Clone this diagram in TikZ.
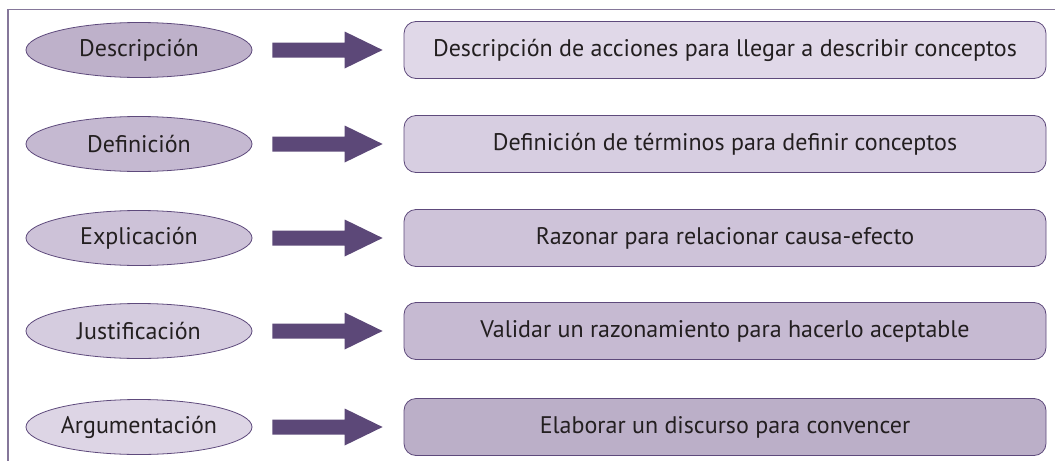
\documentclass[tikz,border=0pt]{standalone}
\usepackage{fontspec}
\setmainfont{PT Sans}
\usetikzlibrary{shapes.geometric,calc}
\definecolor{edgec}{HTML}{5E4A7C}
\definecolor{framec}{HTML}{85779A}
\definecolor{arrowc}{HTML}{5C4878}
\definecolor{txtc}{HTML}{231F20}
\definecolor{e1c}{HTML}{BEB1CA}
\definecolor{e2c}{HTML}{C5B9D1}
\definecolor{e3c}{HTML}{CDC2D8}
\definecolor{e4c}{HTML}{D5CCDF}
\definecolor{e5c}{HTML}{DDD5E5}
\definecolor{b1c}{HTML}{E0D8E8}
\definecolor{b2c}{HTML}{D7CEE1}
\definecolor{b3c}{HTML}{CEC3D9}
\definecolor{b4c}{HTML}{C6BAD2}
\definecolor{b5c}{HTML}{BBAFC8}
\tikzset{
  ell/.style={ellipse, draw=edgec, line width=0.8pt, minimum width=226pt, minimum height=55pt, inner sep=0pt, text=txtc, font=\fontsize{24}{28}\selectfont},
  descbox/.style={rectangle, rounded corners=12pt, draw=edgec, line width=0.8pt, minimum width=642pt, minimum height=57pt, inner sep=0pt, text=txtc, font=\fontsize{24}{28}\selectfont},
  blockarrow/.style={fill=arrowc},
  frameline/.style={draw=framec, line width=1.3pt}
}
\begin{document}
\begin{tikzpicture}[x=1pt,y=-1pt]
\useasboundingbox (0,0) rectangle (1055,461);
\draw[frameline] (1055,9.5) -- (8,9.5) -- (8,461);
\foreach \i/\y/\ec/\bc/\lt/\rt in {
  1/50/e1c/b1c/Descripción/Descripción de acciones para llegar a describir conceptos,
  2/144/e2c/b2c/Definición/Definición de términos para definir conceptos,
  3/238/e3c/b3c/Explicación/Razonar para relacionar causa-efecto,
  4/331/e4c/b4c/Justificación/Validar un razonamiento para hacerlo aceptable,
  5/427/e5c/b5c/Argumentación/Elaborar un discurso para convencer} {
  \node[ell, fill=\ec] (e\i) at (139,\y) {\lt};
  \node[descbox, fill=\bc] (b\i) at (725,\y) {\rt};
  \fill[blockarrow] ($(e\i.east)+(20,-7.5)$) -- ($(b\i.west)+(-59,-7.5)$)
    -- ($(b\i.west)+(-59,-18.5)$) -- ($(b\i.west)+(-21,0)$)
    -- ($(b\i.west)+(-59,18.5)$) -- ($(b\i.west)+(-59,7.5)$)
    -- ($(e\i.east)+(20,7.5)$) -- cycle;
}
\end{tikzpicture}
\end{document}
